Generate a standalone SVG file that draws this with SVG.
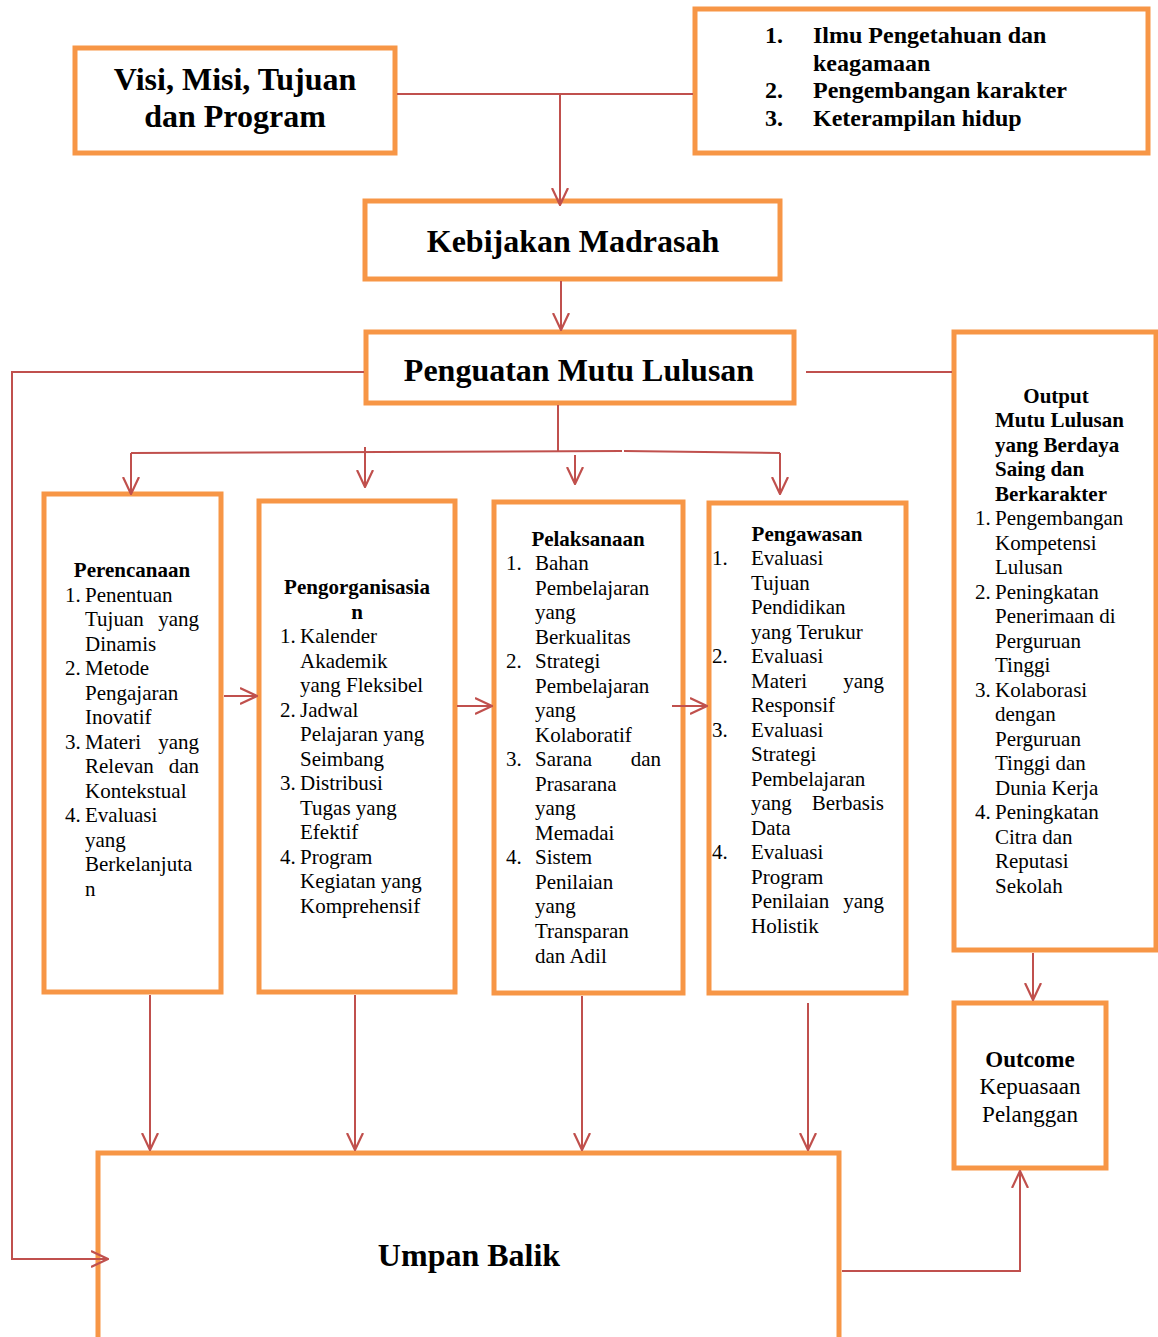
<svg xmlns="http://www.w3.org/2000/svg" width="1158" height="1337" viewBox="0 0 1158 1337">
<defs>
<style>
.box{fill:#FFFFFF;stroke:#F79646;stroke-width:5}
.con{fill:none;stroke:#C0504D;stroke-width:2}
.t{font-family:"Liberation Serif","Times New Roman",serif;fill:#000}
.big{font-size:32px;font-weight:bold}
.lst{font-size:24px;font-weight:bold}
.b{font-size:21px}
.bh{font-size:21px;font-weight:bold}
.oc{font-size:23px}
.ocb{font-size:23px;font-weight:bold}
.c{text-anchor:middle}
.r{text-anchor:end}
</style>
<marker id="arr" viewBox="0 0 18 18" refX="17" refY="9" markerWidth="18" markerHeight="18" markerUnits="userSpaceOnUse" orient="auto">
<path d="M0,1 L17,9 L0,17" fill="none" stroke="#C0504D" stroke-width="2.2"/>
</marker>
</defs>
<rect width="1158" height="1337" fill="#FFFFFF"/>

<g id="visi">
<rect class="box" x="75" y="48" width="320" height="105"/>
<text class="t big c" x="235" y="90">Visi, Misi, Tujuan</text>
<text class="t big c" x="235" y="127">dan Program</text>
</g>

<g id="nilai">
<rect class="box" x="695" y="9" width="453" height="144"/>
<text class="t lst" x="765" y="43">1.</text>
<text class="t lst" x="813" y="43">Ilmu Pengetahuan dan</text>
<text class="t lst" x="813" y="71">keagamaan</text>
<text class="t lst" x="765" y="98">2.</text>
<text class="t lst" x="813" y="98">Pengembangan karakter</text>
<text class="t lst" x="765" y="126">3.</text>
<text class="t lst" x="813" y="126">Keterampilan hidup</text>
</g>

<g id="kebijakan">
<rect class="box" x="365" y="201" width="415" height="78"/>
<text class="t big c" x="573" y="252">Kebijakan Madrasah</text>
</g>

<g id="penguatan">
<rect class="box" x="366" y="332" width="428" height="71"/>
<text class="t big c" x="579" y="381">Penguatan Mutu Lulusan</text>
</g>

<g id="perencanaan">
<rect class="box" x="44" y="494" width="177" height="498"/>
<text class="t bh c" x="132" y="577">Perencanaan</text>
<text class="t b" x="65" y="602">1.</text>
<text class="t b" x="85" y="602">Penentuan</text>
<text class="t b" x="85" y="626">Tujuan</text><text class="t b r" x="199" y="626">yang</text>
<text class="t b" x="85" y="651">Dinamis</text>
<text class="t b" x="65" y="675">2.</text>
<text class="t b" x="85" y="675">Metode</text>
<text class="t b" x="85" y="700">Pengajaran</text>
<text class="t b" x="85" y="724">Inovatif</text>
<text class="t b" x="65" y="749">3.</text>
<text class="t b" x="85" y="749">Materi</text><text class="t b r" x="199" y="749">yang</text>
<text class="t b" x="85" y="773">Relevan</text><text class="t b r" x="199" y="773">dan</text>
<text class="t b" x="85" y="798">Kontekstual</text>
<text class="t b" x="65" y="822">4.</text>
<text class="t b" x="85" y="822">Evaluasi</text>
<text class="t b" x="85" y="847">yang</text>
<text class="t b" x="85" y="871">Berkelanjuta</text>
<text class="t b" x="85" y="896">n</text>
</g>

<g id="pengorganisasian">
<rect class="box" x="259" y="501" width="196" height="491"/>
<text class="t bh c" x="357" y="594">Pengorganisasia</text>
<text class="t bh c" x="357" y="619">n</text>
<text class="t b" x="280" y="643">1.</text>
<text class="t b" x="300" y="643">Kalender</text>
<text class="t b" x="300" y="668">Akademik</text>
<text class="t b" x="300" y="692">yang Fleksibel</text>
<text class="t b" x="280" y="717">2.</text>
<text class="t b" x="300" y="717">Jadwal</text>
<text class="t b" x="300" y="741">Pelajaran yang</text>
<text class="t b" x="300" y="766">Seimbang</text>
<text class="t b" x="280" y="790">3.</text>
<text class="t b" x="300" y="790">Distribusi</text>
<text class="t b" x="300" y="815">Tugas yang</text>
<text class="t b" x="300" y="839">Efektif</text>
<text class="t b" x="280" y="864">4.</text>
<text class="t b" x="300" y="864">Program</text>
<text class="t b" x="300" y="888">Kegiatan yang</text>
<text class="t b" x="300" y="913">Komprehensif</text>
</g>

<g id="pelaksanaan">
<rect class="box" x="494" y="502" width="189" height="491"/>
<text class="t bh c" x="588" y="546">Pelaksanaan</text>
<text class="t b" x="506" y="570">1.</text>
<text class="t b" x="535" y="570">Bahan</text>
<text class="t b" x="535" y="595">Pembelajaran</text>
<text class="t b" x="535" y="619">yang</text>
<text class="t b" x="535" y="644">Berkualitas</text>
<text class="t b" x="506" y="668">2.</text>
<text class="t b" x="535" y="668">Strategi</text>
<text class="t b" x="535" y="693">Pembelajaran</text>
<text class="t b" x="535" y="717">yang</text>
<text class="t b" x="535" y="742">Kolaboratif</text>
<text class="t b" x="506" y="766">3.</text>
<text class="t b" x="535" y="766">Sarana</text><text class="t b r" x="661" y="766">dan</text>
<text class="t b" x="535" y="791">Prasarana</text>
<text class="t b" x="535" y="815">yang</text>
<text class="t b" x="535" y="840">Memadai</text>
<text class="t b" x="506" y="864">4.</text>
<text class="t b" x="535" y="864">Sistem</text>
<text class="t b" x="535" y="889">Penilaian</text>
<text class="t b" x="535" y="913">yang</text>
<text class="t b" x="535" y="938">Transparan</text>
<text class="t b" x="535" y="963">dan Adil</text>
</g>

<g id="pengawasan">
<rect class="box" x="709" y="503" width="197" height="490"/>
<text class="t bh c" x="807" y="541">Pengawasan</text>
<text class="t b" x="712" y="565">1.</text>
<text class="t b" x="751" y="565">Evaluasi</text>
<text class="t b" x="751" y="590">Tujuan</text>
<text class="t b" x="751" y="614">Pendidikan</text>
<text class="t b" x="751" y="639">yang Terukur</text>
<text class="t b" x="712" y="663">2.</text>
<text class="t b" x="751" y="663">Evaluasi</text>
<text class="t b" x="751" y="688">Materi</text><text class="t b r" x="884" y="688">yang</text>
<text class="t b" x="751" y="712">Responsif</text>
<text class="t b" x="712" y="737">3.</text>
<text class="t b" x="751" y="737">Evaluasi</text>
<text class="t b" x="751" y="761">Strategi</text>
<text class="t b" x="751" y="786">Pembelajaran</text>
<text class="t b" x="751" y="810">yang</text><text class="t b r" x="884" y="810">Berbasis</text>
<text class="t b" x="751" y="835">Data</text>
<text class="t b" x="712" y="859">4.</text>
<text class="t b" x="751" y="859">Evaluasi</text>
<text class="t b" x="751" y="884">Program</text>
<text class="t b" x="751" y="908">Penilaian</text><text class="t b r" x="884" y="908">yang</text>
<text class="t b" x="751" y="933">Holistik</text>
</g>

<g id="output">
<rect class="box" x="954" y="332" width="202" height="618"/>
<text class="t bh c" x="1056" y="403">Output</text>
<text class="t bh" x="995" y="427">Mutu Lulusan</text>
<text class="t bh" x="995" y="452">yang Berdaya</text>
<text class="t bh" x="995" y="476">Saing dan</text>
<text class="t bh" x="995" y="501">Berkarakter</text>
<text class="t b" x="975" y="525">1.</text>
<text class="t b" x="995" y="525">Pengembangan</text>
<text class="t b" x="995" y="550">Kompetensi</text>
<text class="t b" x="995" y="574">Lulusan</text>
<text class="t b" x="975" y="599">2.</text>
<text class="t b" x="995" y="599">Peningkatan</text>
<text class="t b" x="995" y="623">Penerimaan di</text>
<text class="t b" x="995" y="648">Perguruan</text>
<text class="t b" x="995" y="672">Tinggi</text>
<text class="t b" x="975" y="697">3.</text>
<text class="t b" x="995" y="697">Kolaborasi</text>
<text class="t b" x="995" y="721">dengan</text>
<text class="t b" x="995" y="746">Perguruan</text>
<text class="t b" x="995" y="770">Tinggi dan</text>
<text class="t b" x="995" y="795">Dunia Kerja</text>
<text class="t b" x="975" y="819">4.</text>
<text class="t b" x="995" y="819">Peningkatan</text>
<text class="t b" x="995" y="844">Citra dan</text>
<text class="t b" x="995" y="868">Reputasi</text>
<text class="t b" x="995" y="893">Sekolah</text>
</g>

<g id="outcome">
<rect class="box" x="954" y="1003" width="152" height="165"/>
<text class="t ocb c" x="1030" y="1067">Outcome</text>
<text class="t oc c" x="1030" y="1094">Kepuasaan</text>
<text class="t oc c" x="1030" y="1122">Pelanggan</text>
</g>

<g id="umpanbalik">
<rect class="box" x="98" y="1153" width="741" height="200"/>
<text class="t big c" x="469" y="1266">Umpan Balik</text>
</g>

<g id="connectors">
<path class="con" d="M397,94 L693,94"/>
<path class="con" d="M560,94 L560,205" marker-end="url(#arr)"/>
<path class="con" d="M561,281 L561,330" marker-end="url(#arr)"/>
<path class="con" d="M364,372 L12,372 L12,1259 L108,1259" marker-end="url(#arr)"/>
<path class="con" d="M806,372 L952,372"/>
<path class="con" d="M558,405 L558,452"/>
<path class="con" d="M131,453 L622,451"/>
<path class="con" d="M624,451 L780,453"/>
<path class="con" d="M131,453 L131,494" marker-end="url(#arr)"/>
<path class="con" d="M365,447 L365,487" marker-end="url(#arr)"/>
<path class="con" d="M575,455 L575,484" marker-end="url(#arr)"/>
<path class="con" d="M780,453 L780,494" marker-end="url(#arr)"/>
<path class="con" d="M224,696 L257,696" marker-end="url(#arr)"/>
<path class="con" d="M457,706 L492,706" marker-end="url(#arr)"/>
<path class="con" d="M672,706 L707,706" marker-end="url(#arr)"/>
<path class="con" d="M150,995 L150,1150" marker-end="url(#arr)"/>
<path class="con" d="M355,995 L355,1150" marker-end="url(#arr)"/>
<path class="con" d="M582,996 L582,1150" marker-end="url(#arr)"/>
<path class="con" d="M808,1003 L808,1150" marker-end="url(#arr)"/>
<path class="con" d="M1033,953 L1033,1000" marker-end="url(#arr)"/>
<path class="con" d="M842,1271 L1020,1271 L1020,1171" marker-end="url(#arr)"/>
</g>
</svg>
